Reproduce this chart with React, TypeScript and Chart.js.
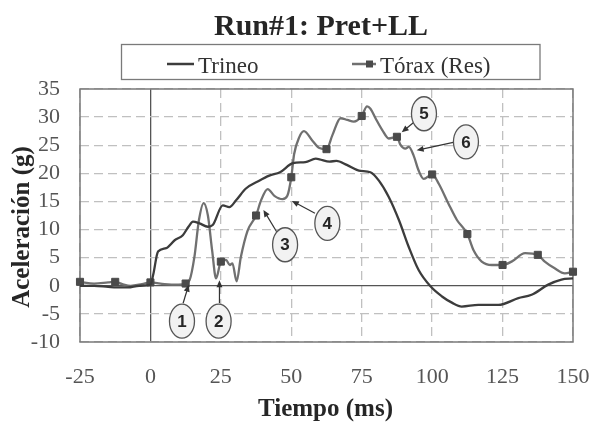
import React, { useEffect, useRef } from "react";
import { Chart, registerables } from "chart.js";

Chart.register(...registerables);

// ---------- data ----------
const titleText = "Run#1: Pret+LL";
const seriesNames = ["Trineo", "Tórax (Res)"];
const xAxisTitle = "Tiempo (ms)";
const yAxisTitle = "Aceleración (g)";

const X_MIN = -25;
const X_MAX = 150;
const X_STEP = 25;
const Y_MIN = -10;
const Y_MAX = 35;
const Y_STEP = 5;
const MARKER_STEP = 12.5;

const trineoT = [
  -25, -20, -15, -12, -8, -4, 0, 1, 2.7, 5.6, 8.6, 11.5, 13.5, 15.1, 17.4, 20.4, 22.1, 25.7, 28,
  30.4, 33.9, 38.6, 42.2, 46, 50.6, 55, 58.7, 60, 63.6, 66, 69.7, 74, 78.1, 81.1, 84.6, 88.2, 91.7,
  95.2, 99.4, 103.5, 107, 110.5, 116.4, 123.5, 130.6, 135.3, 141.2, 145.9, 150,
];
const trineoG = [
  0.0, 0.0, -0.2, -0.3, -0.3, 0.0, 0.2, 2.0, 6.1, 6.7, 8.1, 9.0, 10.5, 11.4, 11.1, 10.5, 10.8, 14.3,
  14.0, 15.2, 17.3, 18.7, 19.6, 20.2, 21.8, 22.0, 22.6, 22.5, 22.1, 22.2, 21.5, 20.5, 20.2, 18.7,
  15.8, 11.7, 6.9, 2.8, -0.1, -1.9, -3.0, -3.7, -3.4, -3.4, -2.2, -1.6, 0.2, 1.1, 1.3,
];

const toraxT = [
  -25, -20, -15, -12.5, -10, -7, -3, 0, 5, 10, 12.5, 13.9, 15.6, 17.2, 18.9, 20.4, 21.9, 23.3, 25,
  26.8, 28.2, 29.1, 30.6, 32.1, 34.5, 37.5, 39.2, 41.6, 44, 46.9, 48.6, 50, 51, 52.8, 54.5, 57.5, 60,
  62.5, 64.6, 67.5, 69.9, 72.2, 75, 76.9, 78.1, 79.9, 82.3, 84.6, 87.5, 88.7, 90.5, 91.7, 93.4, 95.2,
  97, 100, 102.3, 105.8, 108.8, 112.5, 114.7, 117.6, 121.2, 125, 128.2, 133, 137.5, 140, 143.5, 147.1,
  150,
];
const toraxG = [
  0.7, 0.4, 0.6, 0.7, 0.3, 0.0, 0.3, 0.6, 0.3, 0.2, 0.4, 1.0, 5.1, 11.6, 14.7, 12.5, 6.3, 1.3, 4.3,
  4.6, 3.7, 4.0, 0.8, 5.1, 9.8, 12.5, 15.1, 17.2, 16.0, 15.4, 16.0, 19.3, 23.4, 26.4, 27.5, 25.8, 24.5,
  24.3, 26.8, 29.8, 29.5, 29.2, 30.2, 31.9, 31.5, 29.8, 27.7, 26.2, 26.5, 25.1, 24.4, 24.7, 23.2, 20.5,
  19.0, 19.8, 18.2, 14.6, 11.7, 9.2, 6.3, 4.3, 3.7, 3.7, 4.3, 5.8, 5.5, 4.3, 3.1, 2.2, 2.5,
];

// callouts: label, ellipse centre (data), arrow tail and head (data)
const calloutLabels = ["1", "2", "3", "4", "5", "6"];
const calloutCx = [11.2, 24.2, 47.8, 62.8, 97.1, 112.0];
const calloutCy = [-6.3, -6.3, 7.3, 11.1, 30.6, 25.6];
const arrowFromX = [11.6, 24.5, 44.8, 58.4, 93.3, 107.5];
const arrowFromY = [-3.1, -3.1, 9.6, 12.9, 29.0, 25.5];
const arrowToX = [13.6, 24.5, 40.1, 50.2, 89.2, 94.5];
const arrowToY = [0.2, 1.0, 13.5, 15.1, 27.3, 24.1];

// ---------- styling ----------
const SERIF = "'Liberation Serif', 'Times New Roman', serif";
const SANS = "'Liberation Sans', Arial, sans-serif";
const TRINEO_COLOR = "#3c3c3c";
const TORAX_COLOR = "#707070";
const MARKER_COLOR = "#4a4a4a";
const GRID_COLOR = "#c0c0c0";
const ZERO_COLOR = "#555555";
const FRAME_COLOR = "#7a7a7a";
const TICK_COLOR = "#555555";
const TITLE_COLOR = "#262626";

const isMarker = (t: number) => Math.abs(t / MARKER_STEP - Math.round(t / MARKER_STEP)) < 1e-6;

const drawArrow = (ctx: CanvasRenderingContext2D, x1: number, y1: number, x2: number, y2: number) => {
  const ang = Math.atan2(y2 - y1, x2 - x1);
  const len = 7;
  const half = 3;
  ctx.save();
  ctx.strokeStyle = "#333";
  ctx.fillStyle = "#333";
  ctx.lineWidth = 1.2;
  ctx.beginPath();
  ctx.moveTo(x1, y1);
  ctx.lineTo(x2 - Math.cos(ang) * len * 0.8, y2 - Math.sin(ang) * len * 0.8);
  ctx.stroke();
  ctx.beginPath();
  ctx.moveTo(x2, y2);
  ctx.lineTo(
    x2 - Math.cos(ang) * len + Math.cos(ang + Math.PI / 2) * half,
    y2 - Math.sin(ang) * len + Math.sin(ang + Math.PI / 2) * half
  );
  ctx.lineTo(
    x2 - Math.cos(ang) * len - Math.cos(ang + Math.PI / 2) * half,
    y2 - Math.sin(ang) * len - Math.sin(ang + Math.PI / 2) * half
  );
  ctx.closePath();
  ctx.fill();
  ctx.restore();
};

const decorPlugin = {
  id: "decor",
  beforeDatasetsDraw(chart: any) {
    const { ctx, chartArea: a } = chart;
    ctx.save();
    ctx.strokeStyle = FRAME_COLOR;
    ctx.lineWidth = 1.5;
    ctx.strokeRect(a.left, a.top, a.right - a.left, a.bottom - a.top);
    ctx.restore();
  },
  afterDraw(chart: any) {
    const { ctx, chartArea: a, scales } = chart;
    const xs = scales.x;
    const ys = scales.y;
    ctx.save();

    // title
    ctx.fillStyle = TITLE_COLOR;
    ctx.font = `bold 30px ${SERIF}`;
    ctx.textAlign = "center";
    ctx.textBaseline = "alphabetic";
    ctx.fillText(titleText, 321, 35);

    // legend box
    ctx.strokeStyle = FRAME_COLOR;
    ctx.lineWidth = 1.3;
    ctx.strokeRect(121.5, 44.5, 418.5, 35);
    ctx.font = `23px ${SERIF}`;
    ctx.textAlign = "left";
    ctx.fillStyle = "#333";
    // Trineo
    ctx.strokeStyle = TRINEO_COLOR;
    ctx.lineWidth = 2.5;
    ctx.beginPath();
    ctx.moveTo(167, 64);
    ctx.lineTo(194, 64);
    ctx.stroke();
    ctx.fillText(seriesNames[0], 198, 73);
    // Torax
    ctx.strokeStyle = TORAX_COLOR;
    ctx.beginPath();
    ctx.moveTo(352, 64);
    ctx.lineTo(376, 64);
    ctx.stroke();
    ctx.fillStyle = MARKER_COLOR;
    ctx.fillRect(366, 60.5, 7, 7);
    ctx.fillStyle = "#333";
    ctx.fillText(seriesNames[1], 380, 73);

    // axis titles
    ctx.fillStyle = TITLE_COLOR;
    ctx.font = `bold 25px ${SERIF}`;
    ctx.textAlign = "center";
    ctx.fillText(xAxisTitle, (a.left + a.right) / 2 - 1, 416);
    ctx.save();
    ctx.translate(29, 227);
    ctx.rotate(-Math.PI / 2);
    ctx.fillText(yAxisTitle, 0, 0);
    ctx.restore();

    // callouts
    for (let i = 0; i < calloutLabels.length; i++) {
      const fx = xs.getPixelForValue(arrowFromX[i]);
      const fy = ys.getPixelForValue(arrowFromY[i]);
      const tx = xs.getPixelForValue(arrowToX[i]);
      const ty = ys.getPixelForValue(arrowToY[i]);
      drawArrow(ctx, fx, fy, tx, ty);
      const cx = xs.getPixelForValue(calloutCx[i]);
      const cy = ys.getPixelForValue(calloutCy[i]);
      ctx.beginPath();
      ctx.ellipse(cx, cy, 12.5, 17, 0, 0, Math.PI * 2);
      ctx.fillStyle = "#f2f2f2";
      ctx.fill();
      ctx.strokeStyle = "#555";
      ctx.lineWidth = 1.3;
      ctx.stroke();
      ctx.fillStyle = "#262626";
      ctx.font = `bold 17px ${SANS}`;
      ctx.textAlign = "center";
      ctx.textBaseline = "middle";
      ctx.fillText(calloutLabels[i], cx, cy + 1);
      ctx.textBaseline = "alphabetic";
    }
    ctx.restore();
  },
};

export default function App() {
  const canvasRef = useRef<HTMLCanvasElement | null>(null);

  useEffect(() => {
    document.body.style.margin = "0";
    const canvas = canvasRef.current;
    if (!canvas) return;
    const gridColor = (c: any) => (c.tick && c.tick.value === 0 ? ZERO_COLOR : GRID_COLOR);
    const gridDash = (c: any) => (c.tick && c.tick.value === 0 ? [] : [9, 5]);
    const chart = new Chart(canvas, {
      type: "line",
      data: {
        datasets: [
          {
            label: seriesNames[0],
            data: trineoT.map((t, i) => ({ x: t, y: trineoG[i] })),
            borderColor: TRINEO_COLOR,
            borderWidth: 2.3,
            pointRadius: 0,
            cubicInterpolationMode: "monotone",
            fill: false,
          },
          {
            label: seriesNames[1],
            data: toraxT.map((t, i) => ({ x: t, y: toraxG[i] })),
            borderColor: TORAX_COLOR,
            borderWidth: 2.3,
            pointStyle: "rect",
            pointRadius: (c: any) => (isMarker(toraxT[c.dataIndex]) ? 5 : 0),
            pointBackgroundColor: MARKER_COLOR,
            pointBorderColor: MARKER_COLOR,
            pointBorderWidth: 1,
            cubicInterpolationMode: "monotone",
            fill: false,
            clip: false as any,
          },
        ],
      },
      options: {
        responsive: false,
        animation: false,
        events: [],
        layout: { padding: { top: 89, right: 17, left: 0, bottom: 0 } },
        plugins: {
          legend: { display: false },
          title: { display: false },
          tooltip: { enabled: false },
        },
        scales: {
          x: {
            type: "linear",
            min: X_MIN,
            max: X_MAX,
            afterFit: (s: any) => {
              s.height = 83;
              s.paddingLeft = 0;
              s.paddingRight = 0;
            },
            ticks: {
              stepSize: X_STEP,
              autoSkip: false,
              color: TICK_COLOR,
              font: { family: SERIF, size: 22 },
              padding: 22,
              maxRotation: 0,
            },
            grid: { color: gridColor, lineWidth: 1.3, drawTicks: false },
            border: { display: false, dash: gridDash },
          },
          y: {
            type: "linear",
            min: Y_MIN,
            max: Y_MAX,
            afterFit: (s: any) => {
              s.width = 80;
              s.paddingTop = 0;
              s.paddingBottom = 0;
            },
            ticks: {
              stepSize: Y_STEP,
              autoSkip: false,
              color: TICK_COLOR,
              font: { family: SERIF, size: 22 },
              padding: 20,
            },
            grid: { color: gridColor, lineWidth: 1.3, drawTicks: false },
            border: { display: false, dash: gridDash },
          },
        },
      } as any,
      plugins: [decorPlugin],
    });
    return () => chart.destroy();
  }, []);

  return (
    <div style={{ width: 590, height: 425, background: "#fff" }}>
      <canvas ref={canvasRef} width={590} height={425} style={{ display: "block" }} />
    </div>
  );
}
